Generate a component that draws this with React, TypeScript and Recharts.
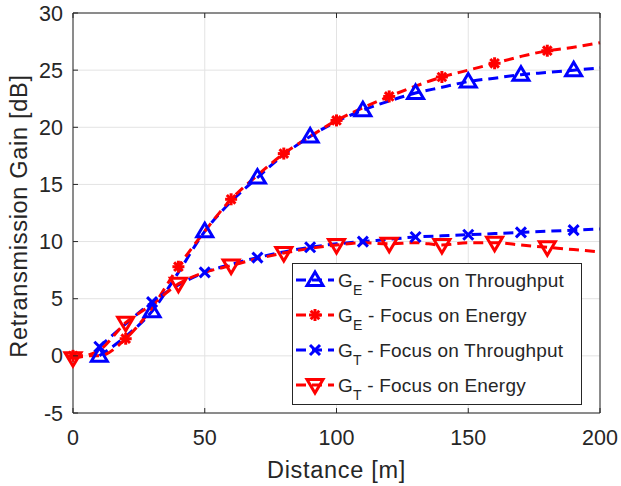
import React from 'react';
import { LineChart, Line, XAxis, YAxis, CartesianGrid, Legend } from 'recharts';

const distances = [0, 10, 20, 30, 40, 50, 60, 70, 80, 90, 100, 110, 120, 130, 140, 150, 160, 170, 180, 190, 200];
const geThroughput = [null, 0, 1.7, 3.9, 7.3, 10.9, 13.5, 15.6, 17.6, 19.2, 20.5, 21.5, 22.3, 23.0, 23.5, 24.0, 24.3, 24.6, 24.8, 25.0, 25.2];
const geEnergy = [0, 0, 1.5, 4.2, 7.8, 10.9, 13.7, 15.8, 17.7, 19.2, 20.6, 21.7, 22.7, 23.6, 24.4, 25.0, 25.6, 26.2, 26.7, 27.0, 27.4];
const gtThroughput = [null, 0.8, 2.8, 4.7, 6.2, 7.3, 8.0, 8.6, 9.1, 9.5, 9.8, 10.0, 10.2, 10.4, 10.5, 10.6, 10.7, 10.8, 10.9, 11.0, 11.1];
const gtEnergy = [-0.2, 0.5, 2.9, 4.5, 6.3, 7.3, 7.9, 8.5, 9.0, 9.4, 9.7, 9.9, 9.8, 9.9, 9.7, 9.9, 9.9, 9.7, 9.5, 9.3, 9.1];

const oddMarkers = [10, 30, 50, 70, 90, 110, 130, 150, 170, 190];
const evenMarkers = [0, 20, 40, 60, 80, 100, 120, 140, 160, 180];

const xTicks = [0, 50, 100, 150, 200];
const yTicks = [-5, 0, 5, 10, 15, 20, 25, 30];

const FONT = '"Liberation Sans", Arial, Helvetica, sans-serif';
const AXIS = '#262626';
const BLUE = '#0000ff';
const RED = '#ff0000';

const series = [
  { key: 'geT', values: geThroughput, color: BLUE, marker: 'up', markers: oddMarkers, sub: 'E', label: ' - Focus on Throughput' },
  { key: 'geE', values: geEnergy, color: RED, marker: 'star', markers: evenMarkers, sub: 'E', label: ' - Focus on Energy' },
  { key: 'gtT', values: gtThroughput, color: BLUE, marker: 'x', markers: oddMarkers, sub: 'T', label: ' - Focus on Throughput' },
  { key: 'gtE', values: gtEnergy, color: RED, marker: 'down', markers: evenMarkers, sub: 'T', label: ' - Focus on Energy' },
];

const data = distances.map((d, i) => {
  const row: any = { d };
  series.forEach((s) => {
    row[s.key] = s.values[i];
  });
  return row;
});

function markerShape(type: string, cx: number, cy: number, color: string, key?: string) {
  const sw = 3;
  if (type === 'up') {
    return (
      <polygon key={key} points={`${cx},${cy - 8} ${cx - 8},${cy + 5.5} ${cx + 8},${cy + 5.5}`} fill="none" stroke={color} strokeWidth={sw} strokeLinejoin="miter" />
    );
  }
  if (type === 'down') {
    return (
      <polygon key={key} points={`${cx},${cy + 8} ${cx - 8},${cy - 5.5} ${cx + 8},${cy - 5.5}`} fill="none" stroke={color} strokeWidth={sw} strokeLinejoin="miter" />
    );
  }
  if (type === 'star') {
    const r = 6;
    const q = 4.3;
    return (
      <g key={key} stroke={color} strokeWidth={3}>
        <line x1={cx - r} y1={cy} x2={cx + r} y2={cy} />
        <line x1={cx} y1={cy - r} x2={cx} y2={cy + r} />
        <line x1={cx - q} y1={cy - q} x2={cx + q} y2={cy + q} />
        <line x1={cx - q} y1={cy + q} x2={cx + q} y2={cy - q} />
      </g>
    );
  }
  const q = 5;
  return (
    <g key={key} stroke={color} strokeWidth={3}>
      <line x1={cx - q} y1={cy - q} x2={cx + q} y2={cy + q} />
      <line x1={cx - q} y1={cy + q} x2={cx + q} y2={cy - q} />
    </g>
  );
}

const makeDot = (s: any) => (props: any) => {
  const { cx, cy, payload, index } = props;
  const k = `dot-${s.key}-${index}`;
  if (cx == null || cy == null || payload == null || payload[s.key] == null || !s.markers.includes(payload.d)) {
    return <g key={k} />;
  }
  return markerShape(s.marker, cx, cy, s.color, k);
};

const BottomTick = (props: any) => {
  const { x, y, payload } = props;
  return (
    <g>
      <line x1={x} x2={x} y1={y} y2={y - 5} stroke={AXIS} />
      <text x={x} y={y + 32} textAnchor="middle" fontSize={21.5} fontFamily={FONT} fill={AXIS}>
        {payload.value}
      </text>
    </g>
  );
};
const TopTick = (props: any) => {
  const { x, y } = props;
  return <line x1={x} x2={x} y1={y} y2={y + 5} stroke={AXIS} />;
};
const LeftTick = (props: any) => {
  const { x, y, payload } = props;
  return (
    <g>
      <line x1={x} x2={x + 5} y1={y} y2={y} stroke={AXIS} />
      <text x={x - 10} y={y + 7.5} textAnchor="end" fontSize={21.5} fontFamily={FONT} fill={AXIS}>
        {payload.value}
      </text>
    </g>
  );
};
const RightTick = (props: any) => {
  const { x, y } = props;
  return <line x1={x} x2={x - 5} y1={y} y2={y} stroke={AXIS} />;
};

const LegendBox = () => (
  <svg width={291} height={143} style={{ display: 'block' }}>
    <rect x={0.5} y={0.5} width={289} height={141} fill="#ffffff" stroke={AXIS} strokeWidth={1} />
    {series.map((s, i) => {
      const cy = 17 + i * 35;
      return (
        <g key={s.key}>
          <line x1={4} x2={42} y1={cy} y2={cy} stroke={s.color} strokeWidth={3} strokeDasharray="10 6" />
          {markerShape(s.marker, 23, cy, s.color)}
          <text x={46} y={cy + 7} fontSize={19} letterSpacing={0.2} fontFamily={FONT} fill={AXIS}>
            G
            <tspan fontSize={14} dy={8}>{s.sub}</tspan>
            <tspan dy={-8}>{s.label}</tspan>
          </text>
        </g>
      );
    })}
  </svg>
);

export default function App() {
  return (
    <div style={{ position: 'absolute', left: 0, top: 0, width: 621, height: 486, background: '#ffffff' }}>
      <LineChart width={621} height={486} data={data} margin={{ top: 12, right: 20, bottom: 43, left: 13 }}>
        <CartesianGrid stroke="#e3e3e3" strokeWidth={1} vertical horizontal />
        <XAxis
          dataKey="d"
          type="number"
          domain={[0, 200]}
          ticks={xTicks}
          height={30}
          tickSize={0}
          tickMargin={0}
          tickLine={false}
          axisLine={{ stroke: AXIS }}
          tick={<BottomTick />}
          label={{
            content: (p: any) => (
              <text x={p.viewBox.x + p.viewBox.width / 2} y={p.viewBox.y + 65} textAnchor="middle" fontSize={23.5} letterSpacing={0.7} fontFamily={FONT} fill={AXIS}>
                Distance [m]
              </text>
            ),
          }}
        />
        <XAxis
          xAxisId="top"
          orientation="top"
          dataKey="d"
          type="number"
          domain={[0, 200]}
          ticks={xTicks}
          height={1}
          tickSize={0}
          tickMargin={0}
          tickLine={false}
          axisLine={{ stroke: AXIS }}
          tick={<TopTick />}
        />
        <YAxis
          type="number"
          domain={[-5, 30]}
          ticks={yTicks}
          width={60}
          tickSize={0}
          tickMargin={0}
          tickLine={false}
          axisLine={{ stroke: AXIS }}
          tick={<LeftTick />}
          label={{
            content: (p: any) => (
              <text
                transform={`translate(27, ${p.viewBox.y + p.viewBox.height / 2 + 3}) rotate(-90)`}
                textAnchor="middle"
                fontSize={23.5}
                letterSpacing={0.7}
                fontFamily={FONT}
                fill={AXIS}
              >
                Retransmission Gain [dB]
              </text>
            ),
          }}
        />
        <YAxis
          yAxisId="right"
          orientation="right"
          type="number"
          domain={[-5, 30]}
          ticks={yTicks}
          width={1}
          tickSize={0}
          tickMargin={0}
          tickLine={false}
          axisLine={{ stroke: AXIS }}
          tick={<RightTick />}
        />
        {series.map((s) => (
          <Line
            key={s.key}
            dataKey={s.key}
            type="monotone"
            stroke={s.color}
            strokeWidth={3}
            strokeDasharray="10 6"
            dot={makeDot(s)}
            activeDot={false}
            isAnimationActive={false}
            connectNulls={false}
          />
        ))}
        <Legend
          layout="horizontal"
          verticalAlign="middle"
          align="center"
          content={() => <LegendBox />}
          wrapperStyle={{ left: 292, top: 263, width: 291, height: 143 }}
        />
      </LineChart>
    </div>
  );
}
